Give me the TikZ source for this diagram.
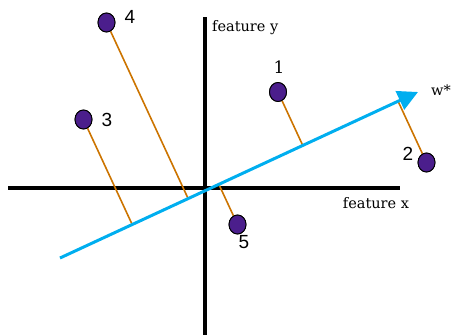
\documentclass[tikz,border=0pt]{standalone}
\usepackage{fontspec}
\usetikzlibrary{arrows.meta,calc,shapes.geometric}
\newfontfamily\numfont{Liberation Sans}
\newfontfamily\labfont{DejaVu Serif}
\definecolor{ptpurple}{HTML}{4B1E8C}
\definecolor{projorange}{HTML}{CC7400}
\definecolor{wblue}{HTML}{00AEEF}
\begin{document}
\begin{tikzpicture}[x=1pt,y=-1pt,
  axis/.style={line width=3.6pt,black},
  wline/.style={line width=3pt,wblue,-{Triangle[length=20pt,width=20pt]}},
  proj/.style={line width=1.6pt,projorange},
  pt/.style={ellipse,draw=black,line width=0.9pt,fill=ptpurple,minimum width=17pt,minimum height=19pt,inner sep=0pt},
  num/.style={font=\numfont\fontsize{19}{21}\selectfont,inner sep=0pt},
  serifnum/.style={font=\labfont\fontsize{17}{19}\selectfont,inner sep=0pt},
  lab/.style={font=\labfont\fontsize{14.5}{16}\selectfont,inner sep=0pt}]
\useasboundingbox (0,0) rectangle (452,335);
% axes
\coordinate (xl) at (8,188);
\coordinate (xr) at (400,188);
\coordinate (yt) at (205,17);
\coordinate (yb) at (205,335);
\draw[axis] (xl) -- (xr);
\draw[axis] (yt) -- (yb);
% w line
\coordinate (A) at (60,258);
\coordinate (B) at (418,92);
% points
\node[pt] (p4) at (106.5,22.5) {};
\node[pt] (p1) at (278,92) {};
\node[pt] (p3) at (83.5,119.5) {};
\node[pt] (p2) at (426.5,162.5) {};
\node[pt] (p5) at (237.5,224.5) {};
% projections
\foreach \p in {p1,p2,p3,p4,p5}{
  \coordinate (f\p) at ($(A)!(\p.center)!(B)$);
  \draw[proj] (\p) -- (f\p);
}
\draw[wline] (A) -- (B);
% redraw points on top
\foreach \p/\x/\y in {p4/106.5/22.5,p1/278/92,p3/83.5/119.5,p2/426.5/162.5,p5/237.5/224.5}{
  \node[pt] at (\x,\y) {};
}
% labels
\node[num] (l4) at (130,17) {4};
\node[serifnum] (l1) at (279,67) {1};
\node[num] (l3) at (107,120) {3};
\node[num] (l2) at (408,154) {2};
\node[num] (l5) at (244,242) {5};
\node[lab,anchor=west] (fy) at (212,28) {feature y};
\node[lab] (fx) at (376,203) {feature x};
\node[lab] (w) at (441,90) {w*};
\end{tikzpicture}
\end{document}
